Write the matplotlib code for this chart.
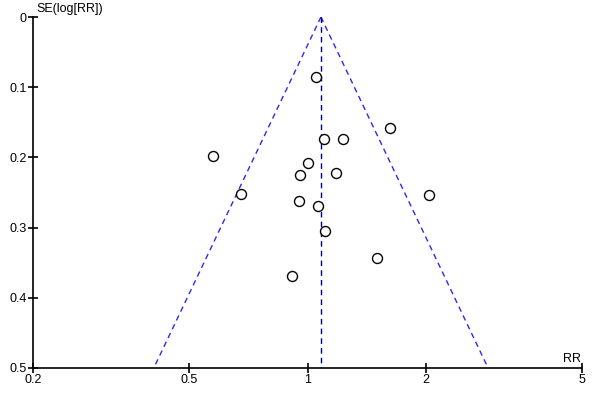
import matplotlib

matplotlib.use("Agg")

import matplotlib.pyplot as plt
import numpy as np
from matplotlib.ticker import FixedLocator, FixedFormatter, NullLocator

# study-level estimates
rr = [1.05, 1.62, 1.10, 1.23, 0.574, 1.00, 0.957, 1.18, 0.677, 2.04,
      0.954, 1.063, 1.11, 1.50, 0.913]
se_log_rr = [0.085, 0.158, 0.174, 0.174, 0.198, 0.208, 0.225, 0.222, 0.252, 0.253,
             0.262, 0.269, 0.305, 0.343, 0.369]
pooled_rr = 1.082
se_max = 0.5

x_ticks = [0.2, 0.5, 1, 2, 5]
x_tick_labels = ["0.2", "0.5", "1", "2", "5"]
y_ticks = [0, 0.1, 0.2, 0.3, 0.4, 0.5]
y_tick_labels = ["0", "0.1", "0.2", "0.3", "0.4", "0.5"]

plt.rcParams["font.family"] = ["Liberation Sans", "DejaVu Sans"]

fig = plt.figure(figsize=(6, 4), dpi=100)
ax = fig.add_axes([0.055, 0.08, 0.915, 0.8775])

# pseudo 95% confidence limits
se_line = np.array([0.0, se_max])
lower = pooled_rr * np.exp(-1.96 * se_line)
upper = pooled_rr * np.exp(1.96 * se_line)
ax.plot(lower, se_line, color="#2a2af0", linestyle=(0, (4, 3)), linewidth=1.0)
ax.plot(upper, se_line, color="#2a2af0", linestyle=(0, (4, 3)), linewidth=1.0)
ax.plot([pooled_rr, pooled_rr], [0, se_max], color="#000090", linestyle=(0, (4, 3)),
        linewidth=1.0)

ax.plot(rr, se_log_rr, linestyle="none", marker="o", markersize=7.2,
        markerfacecolor="white", markeredgecolor="black", markeredgewidth=1.0)

ax.set_xscale("log")
ax.set_xlim(0.2, 5)
ax.set_ylim(se_max, 0)
ax.xaxis.set_major_locator(FixedLocator(x_ticks))
ax.xaxis.set_major_formatter(FixedFormatter(x_tick_labels))
ax.xaxis.set_minor_locator(NullLocator())
ax.yaxis.set_major_locator(FixedLocator(y_ticks))
ax.yaxis.set_major_formatter(FixedFormatter(y_tick_labels))

for side in ("top", "right"):
    ax.spines[side].set_visible(False)
for side in ("left", "bottom"):
    ax.spines[side].set_linewidth(1.2)
ax.tick_params(direction="inout", length=7, width=1.2, labelsize=9, pad=1)

ax.text(0.006, 1.005, "SE(log[RR])", transform=ax.transAxes, fontsize=9,
        ha="left", va="bottom")
ax.text(0.999, 0.008, "RR", transform=ax.transAxes, fontsize=9,
        ha="right", va="bottom")

fig.savefig("out.png", dpi=100)
